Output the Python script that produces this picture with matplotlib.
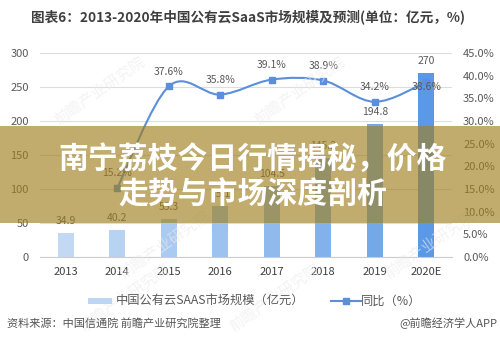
import numpy as np
import matplotlib
matplotlib.use("Agg")
import matplotlib.pyplot as plt
from matplotlib.path import Path
from matplotlib.patches import PathPatch, Rectangle

plt.rcParams['font.family'] = ['Noto Sans CJK SC', 'DejaVu Sans']

# data
years = ['2013', '2014', '2015', '2016', '2017', '2018', '2019', '2020E']
market_size = [34.9, 40.2, 55.3, 75.1, 104.5, 145.2, 194.8, 270]
growth = [None, 15.2, 37.6, 35.8, 39.1, 38.9, 34.2, 38.6]
bar_labels = ['34.9', '40.2', '55.3', '75.1', '104.5', '145.2', '194.8', '270']
growth_labels = ['', '15.2%', '37.6%', '35.8%', '39.1%', '38.9%', '34.2%', '38.6%']

title = '图表6：2013-2020年中国公有云SaaS市场规模及预测(单位：亿元，%)'
source = '资料来源：中国信通院 前瞻产业研究院整理'
credit = '@前瞻经济学人APP'
banner = ['南宁荔枝今日行情揭秘，价格', '走势与市场深度剖析']

bar_colors = ['#C3D9F3', '#B8D2F2', '#AACAF1', '#9DC2EF', '#90BAED',
              '#82B1EB', '#73A8E9', '#5B98E5']
line_color = '#5B8FD9'
text_gray = '#595959'

fig = plt.figure(figsize=(5, 3.5), dpi=100)
ax = fig.add_axes([0.08, 0.266, 0.824, 0.583])
ax2 = ax.twinx()

x = np.arange(len(years))
ax.bar(x, market_size, width=0.32, color=bar_colors, zorder=2)
for xi, v, lab in zip(x, market_size, bar_labels):
    ax.annotate(lab, (xi, v), xytext=(0, 5), textcoords='offset points',
                ha='center', va='bottom', fontsize=7.5, color=text_gray)

ax.set_xlim(-0.5, len(years) - 0.5)
ax.set_ylim(0, 300)
ax.set_yticks(np.arange(0, 301, 50))
ax.set_xticks(x)
ax.set_xticklabels(years)
ax.grid(axis='y', color='#DDDDDD', linewidth=0.8, zorder=0)
ax.set_axisbelow(True)
for s in ['top', 'left', 'right']:
    ax.spines[s].set_visible(False)
ax.spines['bottom'].set_color('#CCCCCC')
ax.tick_params(axis='both', length=0, labelsize=8, colors=text_gray)
ax.tick_params(axis='y', pad=8)
ax.tick_params(axis='x', pad=7, labelcolor='#404040')

# smoothed growth line (bezier through the points, Excel style)
gx = [xi for xi, g in zip(x, growth) if g is not None]
gy = [g / 100 for g in growth if g is not None]
pts = np.column_stack([gx, gy])
ext = np.vstack([pts[0], pts, pts[-1]])
verts = [tuple(pts[0])]
codes = [Path.MOVETO]
for i in range(len(pts) - 1):
    p0, p1, p2, p3 = ext[i], ext[i + 1], ext[i + 2], ext[i + 3]
    c1 = p1 + (p2 - p0) / 6
    c2 = p2 - (p3 - p1) / 6
    verts += [tuple(c1), tuple(c2), tuple(p2)]
    codes += [Path.CURVE4] * 3
ax2.add_patch(PathPatch(Path(verts, codes), facecolor='none',
                        edgecolor=line_color, linewidth=1.5, zorder=3))
ax2.plot(gx, gy, linestyle='none', marker='s', markersize=5,
         color=line_color, zorder=4)
for xi, g, lab in zip(x, growth, growth_labels):
    if g is None:
        continue
    dy = -4 if lab == '38.6%' else 7
    va = 'bottom' if dy > 0 else 'center'
    ax2.annotate(lab, (xi, g / 100), xytext=(0, dy), textcoords='offset points',
                 ha='center', va=va, fontsize=7.5, color=text_gray, zorder=5)

ax2.set_ylim(0, 0.45)
ax2.set_yticks(np.arange(0, 0.451, 0.05))
ax2.set_yticklabels([f'{v * 100:.1f}%' for v in np.arange(0, 0.451, 0.05)])
ax2.tick_params(axis='y', length=0, labelsize=8, colors=text_gray, pad=8)
for s in ['top', 'left', 'right', 'bottom']:
    ax2.spines[s].set_visible(False)

# title, legend, source
fig.text(0.497, 0.952, title, fontsize=9.8, fontweight='bold', color='#3F3F3F',
         ha='center', va='center')

fig.patches.append(Rectangle((0.176, 0.131), 0.048, 0.017, transform=fig.transFigure,
                             facecolor='#BDD7F3', edgecolor='none'))
fig.text(0.232, 0.139, '中国公有云SAAS市场规模（亿元）', fontsize=8.8,
         color=text_gray, ha='left', va='center')
fig.lines.append(plt.Line2D([0.662, 0.692, 0.722], [0.139, 0.139, 0.139],
                            transform=fig.transFigure, color=line_color,
                            linewidth=1.5, marker='s', markersize=4, markevery=[1]))
fig.text(0.722, 0.139, '同比（%）', fontsize=8.8, color=text_gray,
         ha='left', va='center')

fig.text(0.014, 0.077, source, fontsize=8, color='#555555', ha='left', va='center')
fig.text(0.995, 0.077, credit, fontsize=8, color='#555555', ha='right', va='center')

# faint watermarks
for wx, wy in [(0.2, 0.74), (0.6, 0.74), (0.33, 0.3), (0.86, 0.3), (0.25, 0.15), (0.55, 0.15)]:
    fig.text(wx, wy, '前瞻产业研究院', fontsize=11, color='#EBEBEB', rotation=35,
             ha='center', va='center', alpha=0.6, zorder=0)

# banner overlay
fig.patches.append(Rectangle((0, 0.363), 1, 0.277, transform=fig.transFigure,
                             facecolor='#A08020', alpha=0.65, edgecolor='none',
                             zorder=10))
fig.text(0.505, 0.545, banner[0], fontsize=21.5, fontweight='heavy', color='white',
         ha='center', va='center', zorder=11)
fig.text(0.505, 0.443, banner[1], fontsize=21.5, fontweight='heavy', color='white',
         ha='center', va='center', zorder=11)

fig.savefig('out.png', dpi=100)
